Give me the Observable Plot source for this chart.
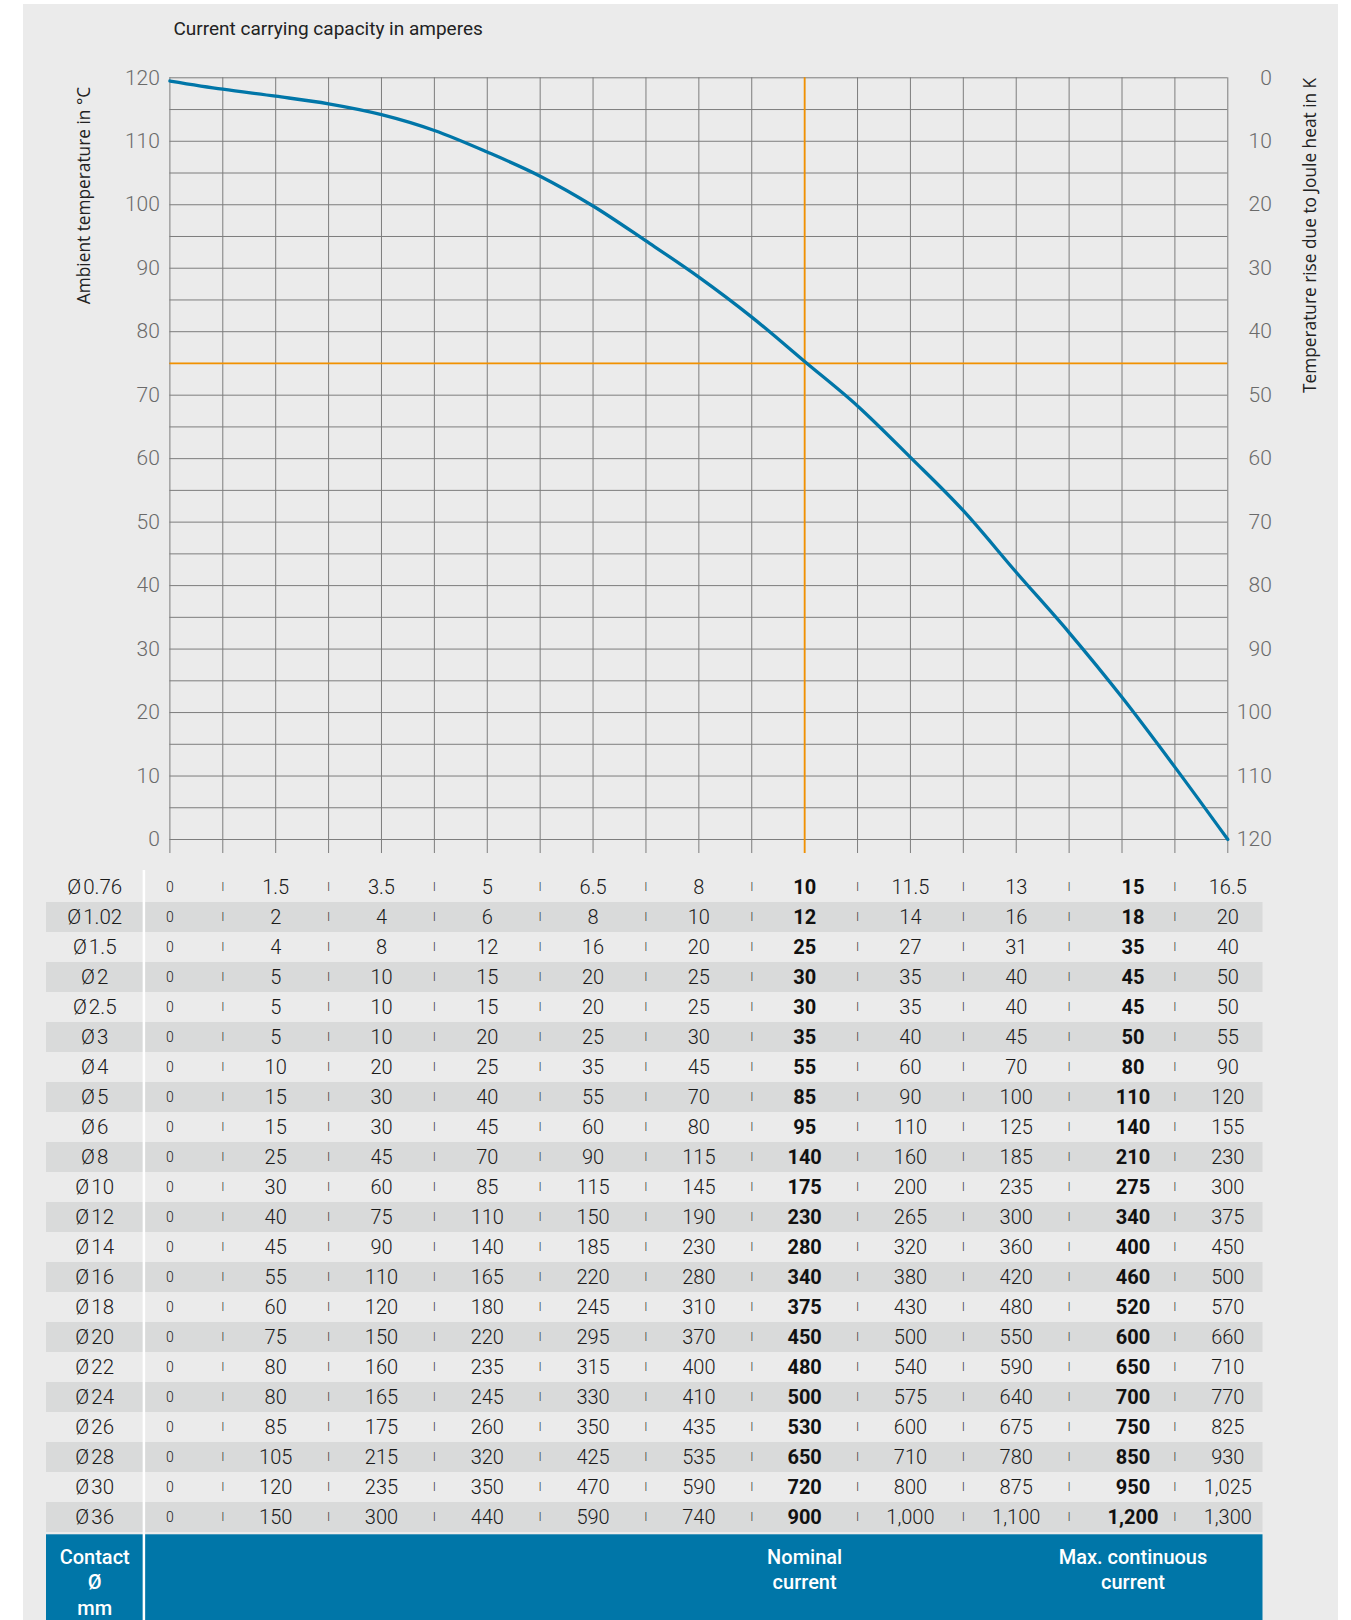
<!DOCTYPE html>
<html>
<head>
<meta charset="utf-8">
<script src="https://cdn.jsdelivr.net/npm/d3@7"></script>
<script src="https://cdn.jsdelivr.net/npm/@observablehq/plot@0.6"></script>
<style>
  html, body { margin: 0; padding: 0; background: #ffffff; }
  #page { position: relative; width: 1351px; height: 1620px; overflow: hidden; }
  #panel { position: absolute; left: 23px; top: 4px; width: 1315px; height: 1616px; background: #ebebeb; }
  #chart, #table { position: absolute; left: 0; }
  #chart { top: 0; }
  #table { top: 860px; }
  svg { overflow: visible; }
</style>
</head>
<body>
<div id="page">
  <div id="panel"></div>
  <div id="chart"></div>
  <div id="table"></div>
</div>
<script>
// ---------- data ----------
const columns = [0,1,2,3,4,5,6,7,8,9,10,11,12,13,14,15,16,17,18,19,20];
const curveTemp = [119.5,118.2,117.1,115.9,114.2,111.7,108.3,104.5,99.8,94.3,88.6,82.3,75.3,68.3,60.2,51.8,42.1,32.6,22.4,11.4,0];
const ambientTicks = [0,10,20,30,40,50,60,70,80,90,100,110,120];
const riseLabels   = [120,110,100,90,80,70,60,50,40,30,20,10,0];
const gridTemps = [0,5,10,15,20,25,30,35,40,45,50,55,60,65,70,75,80,85,90,95,100,105,110,115,120];
const nominalColumn = 12;
const operatingTemp = 75;

const diameters = ["0.76","1.02","1.5","2","2.5","3","4","5","6","8","10","12","14","16","18","20","22","24","26","28","30","36"];
const currents = [
  [0,1.5,3.5,5,6.5,8,10,11.5,13,15,16.5],
  [0,2,4,6,8,10,12,14,16,18,20],
  [0,4,8,12,16,20,25,27,31,35,40],
  [0,5,10,15,20,25,30,35,40,45,50],
  [0,5,10,15,20,25,30,35,40,45,50],
  [0,5,10,20,25,30,35,40,45,50,55],
  [0,10,20,25,35,45,55,60,70,80,90],
  [0,15,30,40,55,70,85,90,100,110,120],
  [0,15,30,45,60,80,95,110,125,140,155],
  [0,25,45,70,90,115,140,160,185,210,230],
  [0,30,60,85,115,145,175,200,235,275,300],
  [0,40,75,110,150,190,230,265,300,340,375],
  [0,45,90,140,185,230,280,320,360,400,450],
  [0,55,110,165,220,280,340,380,420,460,500],
  [0,60,120,180,245,310,375,430,480,520,570],
  [0,75,150,220,295,370,450,500,550,600,660],
  [0,80,160,235,315,400,480,540,590,650,710],
  [0,80,165,245,330,410,500,575,640,700,770],
  [0,85,175,260,350,435,530,600,675,750,825],
  [0,105,215,320,425,535,650,710,780,850,930],
  [0,120,235,350,470,590,720,800,875,950,1025],
  [0,150,300,440,590,740,900,1000,1100,1200,1300]
];
const valueColumns = [0,2,4,6,8,10,12,14,16,18,20];
const separatorColumns = [1,3,5,7,9,11,13,15,17,19];
const nominalIndex = 6;
const maxIndex = 9;
const title = "Current carrying capacity in amperes";
const leftTitle = "Ambient temperature in °C";
const rightTitle = "Temperature rise due to Joule heat in K";
const footerLeft = "Contact\nØ\nmm";
const footerNominal = "Nominal\ncurrent";
const footerMax = "Max. continuous\ncurrent";

// ---------- styles ----------
const GRID = "#7d7d7d";
const ORANGE = "#f29100";
const BLUE = "#0076a8";
const AXIS_TEXT = "#6a6a6a";
const BAND = "#d9dada";
const FONT = "Roboto, 'Noto Sans', sans-serif";

const curveData = columns.map((c, i) => ({col: c, temp: curveTemp[i]}));

const chart = Plot.plot({
  width: 1351, height: 860,
  marginLeft: 169.4, marginRight: 123.7, marginTop: 77.3, marginBottom: 21,
  x: {domain: [columns[0], columns[columns.length - 1]]},
  y: {domain: [0, 120]},
  style: {background: "transparent", fontFamily: FONT, overflow: "visible"},
  marks: [
    Plot.gridX(columns, {stroke: GRID, strokeOpacity: 1, strokeWidth: 1}),
    Plot.gridY(gridTemps, {stroke: GRID, strokeOpacity: 1, strokeWidth: 1}),
    Plot.axisX(columns, {tickSize: 14, tickFormat: () => "", stroke: GRID, label: null}),
    Plot.axisY(ambientTicks, {anchor: "left", tickSize: 0, tickPadding: 10, fontSize: 21, fill: AXIS_TEXT, fontWeight: 300, label: null}),
    Plot.axisY(ambientTicks, {anchor: "right", tickSize: 0, tickPadding: 44, textAnchor: "end", fontSize: 21, fill: AXIS_TEXT, fontWeight: 300, label: null,
      tickFormat: d => String(riseLabels[ambientTicks.indexOf(d)])}),
    Plot.ruleY([operatingTemp], {stroke: ORANGE, strokeWidth: 1.8}),
    Plot.ruleX([nominalColumn], {stroke: ORANGE, strokeWidth: 1.8, insetBottom: -14}),
    Plot.line(curveData, {x: "col", y: "temp", stroke: BLUE, strokeWidth: 3.3, curve: "monotone-x"}),
    Plot.text([title], {frameAnchor: "top-left", textAnchor: "start", lineAnchor: "middle", dx: 3.6, dy: -49, fontSize: 19, fill: "#222"}),
    Plot.text([leftTitle], {frameAnchor: "top-left", rotate: -90, textAnchor: "end", lineAnchor: "middle", dx: -85.7, dy: 9, fontSize: 17.3, fill: "#222", fontFamily: "'Open Sans', sans-serif"}),
    Plot.text([rightTitle], {frameAnchor: "top-right", rotate: -90, textAnchor: "end", lineAnchor: "middle", dx: 82.7, dy: 0, fontSize: 17.3, fill: "#222", fontFamily: "'Open Sans', sans-serif"})
  ]
});
document.getElementById("chart").append(chart);

// ---------- table ----------
const fmt = v => v >= 1000 ? d3.format(",")(v) : String(v);
const cells = [];
diameters.forEach((d, r) => {
  currents[r].forEach((v, j) => cells.push({dia: d, j, col: valueColumns[j], text: fmt(v)}));
});
const seps = [];
diameters.forEach(d => separatorColumns.forEach(c => seps.push({dia: d, col: c})));
const shaded = diameters.filter((d, i) => i % 2 === 1);

const first = columns[0], last = columns[columns.length - 1];
const table = Plot.plot({
  width: 1351, height: 760,
  marginLeft: 169.4, marginRight: 123.7, marginTop: 9, marginBottom: 85.7,
  x: {domain: [first, last], axis: null},
  y: {domain: diameters, padding: 0, axis: null},
  style: {background: "transparent", fontFamily: FONT, overflow: "visible"},
  marks: [
    Plot.barX(shaded, {y: d => d, x1: first, x2: last, fill: BAND, insetLeft: -123.4, insetRight: -35.2}),
    Plot.barX([footerLeft], {x1: first, x2: last, fill: BLUE, insetLeft: -123.4, insetRight: -35.2, insetTop: 665.3, insetBottom: -86}),
    Plot.ruleX([first], {dx: -26, stroke: "#ffffff", strokeWidth: 2.5, insetTop: 1, insetBottom: -86}),
    Plot.text(diameters, {y: d => d, text: d => "Ø\u200A" + d, frameAnchor: "left", dx: -75.2, textAnchor: "middle", fontSize: 20.5, fontWeight: 300, fill: "#1a1a1a"}),
    Plot.text(cells.filter(c => c.j === 0), {x: "col", y: "dia", text: "text", fontSize: 14, fontWeight: 300, fill: "#1a1a1a"}),
    Plot.text(cells.filter(c => c.j > 0 && c.j !== nominalIndex && c.j !== maxIndex), {x: "col", y: "dia", text: "text", fontSize: 20, fontWeight: 300, fill: "#1a1a1a"}),
    Plot.text(cells.filter(c => c.j === nominalIndex), {x: "col", y: "dia", text: "text", fontSize: 20, fontWeight: 700, fill: "#111"}),
    Plot.text(cells.filter(c => c.j === maxIndex), {x: "col", y: "dia", text: "text", dx: 11, fontSize: 20, fontWeight: 700, fill: "#111"}),
    Plot.text(seps, {x: "col", y: "dia", text: () => "I", fontSize: 12, fontWeight: 300, fill: "#333"}),
    Plot.text([footerLeft], {frameAnchor: "bottom-left", dx: -75.2, dy: 11, lineAnchor: "top", textAnchor: "middle", lineHeight: 1.27, fontSize: 20, fontWeight: 500, fill: "#fff"}),
    Plot.text([footerNominal], {x: () => columns[valueColumns[nominalIndex]], frameAnchor: "bottom", dy: 11, lineAnchor: "top", lineHeight: 1.27, fontSize: 20, fontWeight: 500, fill: "#fff"}),
    Plot.text([footerMax], {x: () => columns[valueColumns[maxIndex]], frameAnchor: "bottom", dx: 11, dy: 11, lineAnchor: "top", lineHeight: 1.27, fontSize: 20, fontWeight: 500, fill: "#fff"})
  ]
});
document.getElementById("table").append(table);
</script>
</body>
</html>
